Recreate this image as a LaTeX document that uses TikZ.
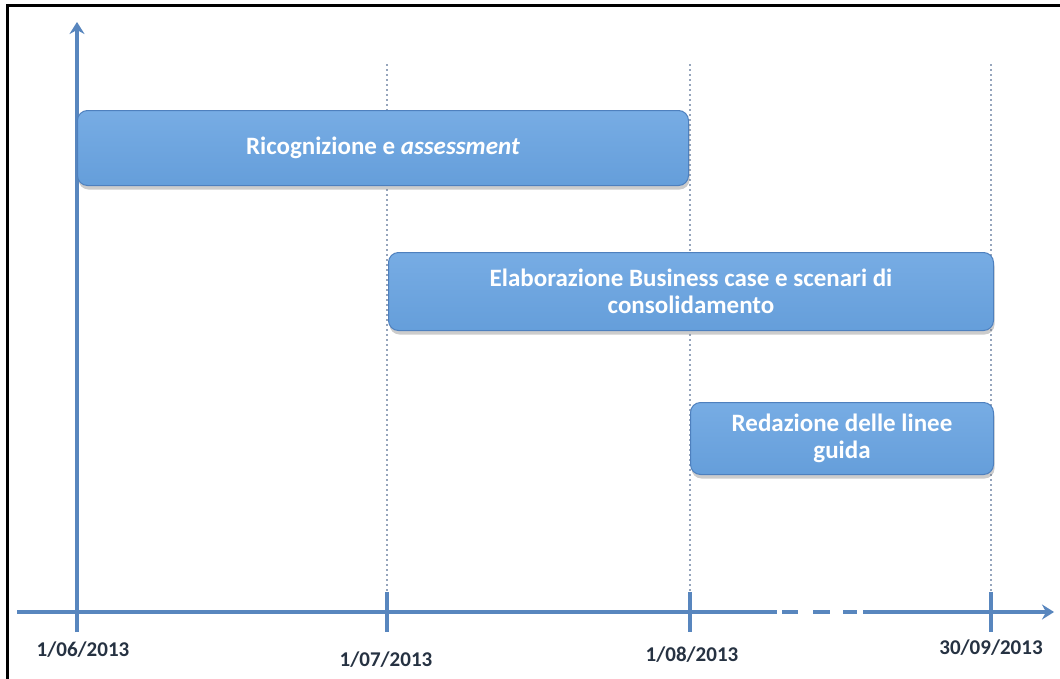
\documentclass[tikz,border=0pt]{standalone}
\usepackage{fontspec}
\setmainfont{Carlito}
\usetikzlibrary{shadows,arrows.meta}

\definecolor{barblue}{RGB}{104,163,225}
\definecolor{baredge}{RGB}{78,128,190}
\definecolor{axisblue}{RGB}{88,134,190}
\definecolor{guidegray}{RGB}{150,165,188}
\definecolor{datetext}{RGB}{38,50,66}

\tikzset{
    phase/.style={draw=baredge, line width=1pt, rounded corners=10pt,
        top color=barblue!90!white, bottom color=barblue!97!black,
        text=white, font=\fontsize{25}{27}\selectfont\bfseries,
        align=center, anchor=north west, inner sep=0pt,
        drop shadow={shadow xshift=1pt, shadow yshift=-4pt, opacity=0.4}},
    axisline/.style={draw=axisblue, line width=3.2pt},
    guide/.style={draw=guidegray, line width=1.8pt, dash pattern=on 1.8pt off 3.2pt},
    datelabel/.style={text=datetext, font=\fontsize{21}{24}\selectfont\bfseries}
}

\begin{document}
\begin{tikzpicture}[x=1pt, y=-1pt, >={Stealth[length=12pt,width=15pt,inset=4pt]}]
        \useasboundingbox (0,0) rectangle (1060,678);
        \fill[white] (0,0) rectangle (1060,678);

        % frame
        \draw[line width=3pt] (7,680) -- (7,5) -- (1062,5);

        % tick positions
        \coordinate (t1) at (77,612);
        \coordinate (t2) at (387,612);
        \coordinate (t3) at (690,612);
        \coordinate (t4) at (991,612);
        \coordinate (xs) at (17,612);
        \coordinate (gapa) at (777,612);
        \coordinate (gapb) at (863,612);
        \coordinate (xe) at (1054,612);
        \coordinate (ye) at (77,22);

        % guide lines
        \draw[guide] (387,64) -- ([yshift=20pt]t2);
        \draw[guide] (690,64) -- ([yshift=20pt]t3);
        \draw[guide] (991,64) -- ([yshift=20pt]t4);

        % axes
        \draw[axisline,->] ([yshift=-20pt]t1) -- (ye);
        \draw[axisline] (xs) -- (gapa);
        \draw[axisline, dash pattern=on 0pt off 5pt on 16pt off 15pt on 17pt off 13pt on 14pt off 10pt] (gapa) -- (gapb);
        \draw[axisline,->] (gapb) -- (xe);
        \draw[axisline] ([yshift=20pt]t2) -- ([yshift=-20pt]t2);
        \draw[axisline] ([yshift=20pt]t3) -- ([yshift=-20pt]t3);
        \draw[axisline] ([yshift=20pt]t4) -- ([yshift=-20pt]t4);

        % phases
        \node[phase, minimum width=611pt, minimum height=75pt] (ric) at (77,110)
            {Ricognizione e \textit{assessment}};
        \node[phase, minimum width=605pt, minimum height=78pt] (ela) at (388,252)
            {Elaborazione Business case e scenari di\\consolidamento};
        \node[phase, minimum width=303pt, minimum height=72pt] (red) at (690,402)
            {Redazione delle linee\\guida};

        % dates
        \node[datelabel] (d1) at (83,650) {1/06/2013};
        \node[datelabel] (d2) at (386,660) {1/07/2013};
        \node[datelabel] (d3) at (692,655) {1/08/2013};
        \node[datelabel] (d4) at (991,648) {30/09/2013};
    \end{tikzpicture}
\end{document}
